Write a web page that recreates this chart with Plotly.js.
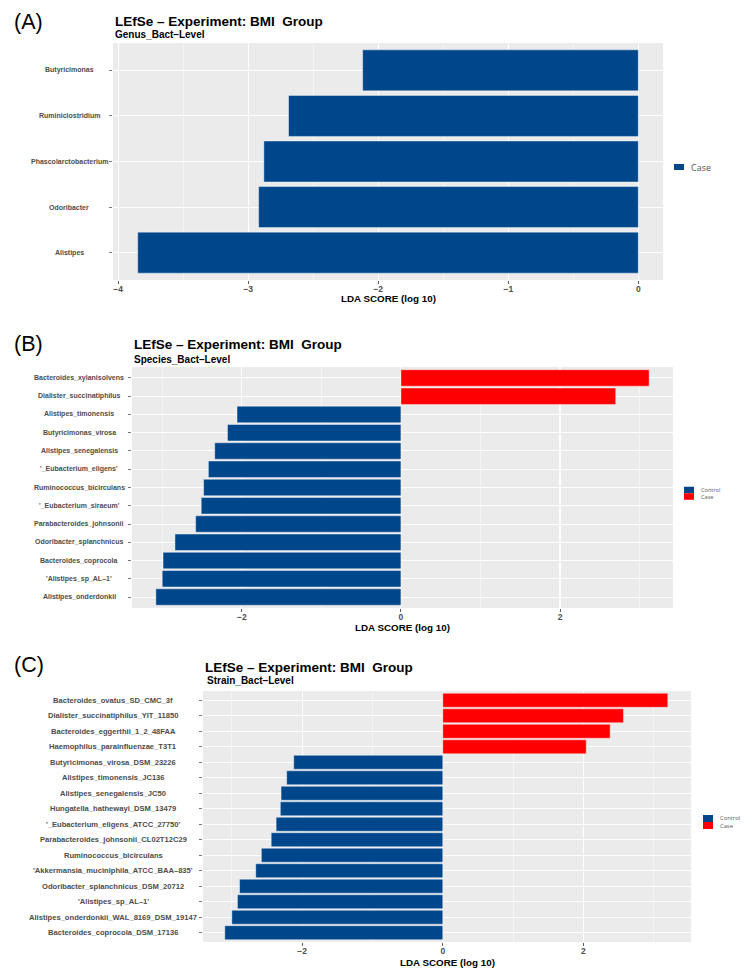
<!DOCTYPE html>
<html>
<head>
<meta charset="utf-8">
<script src="https://cdn.plot.ly/plotly-3.0.1.min.js"></script>
<style>
  html, body { margin: 0; padding: 0; background: #fff; }
  #chart { width: 753px; height: 974px; }
</style>
</head>
<body>
<div id="chart"></div>
<script>
// (A) genus level, top to bottom
var genusLabels = ['Butyricimonas', 'Ruminiclostridium', 'Phascolarctobacterium', 'Odoribacter', 'Alistipes'];
var genusLDA = [-2.12, -2.69, -2.88, -2.92, -3.85];
var genusGroup = ['Case', 'Case', 'Case', 'Case', 'Case'];

// (B) species level, top to bottom
var speciesLabels = [
  'Bacteroides_xylanisolvens', 'Dialister_succinatiphilus', 'Alistipes_timonensis',
  'Butyricimonas_virosa', 'Alistipes_senegalensis', "'_Eubacterium_eligens'",
  'Ruminococcus_bicirculans', "'_Eubacterium_siraeum'", 'Parabacteroides_johnsonii',
  'Odoribacter_splanchnicus', 'Bacteroides_coprocola', "'Alistipes_sp_AL–1'",
  'Alistipes_onderdonkii'
];
var speciesLDA = [3.12, 2.70, -2.06, -2.18, -2.34, -2.42, -2.48, -2.51, -2.58, -2.84, -2.99, -3.00, -3.08];
var speciesGroup = ['Case', 'Case', 'Control', 'Control', 'Control', 'Control', 'Control',
  'Control', 'Control', 'Control', 'Control', 'Control', 'Control'];

// (C) strain level, top to bottom
var strainLabels = [
  'Bacteroides_ovatus_SD_CMC_3f', 'Dialister_succinatiphilus_YIT_11850',
  'Bacteroides_eggerthii_1_2_48FAA', 'Haemophilus_parainfluenzae_T3T1',
  'Butyricimonas_virosa_DSM_23226', 'Alistipes_timonensis_JC136',
  'Alistipes_senegalensis_JC50', 'Hungatella_hathewayi_DSM_13479',
  "'_Eubacterium_eligens_ATCC_27750'", 'Parabacteroides_johnsonii_CL02T12C29',
  'Ruminococcus_bicirculans', "'Akkermansia_muciniphila_ATCC_BAA–835'",
  'Odoribacter_splanchnicus_DSM_20712', "'Alistipes_sp_AL–1'",
  'Alistipes_onderdonkii_WAL_8169_DSM_19147', 'Bacteroides_coprocola_DSM_17136'
];
var strainLDA = [3.20, 2.57, 2.38, 2.04, -2.12, -2.22, -2.30, -2.31, -2.37, -2.44, -2.58, -2.66, -2.89, -2.92, -3.00, -3.10];
var strainGroup = ['Case', 'Case', 'Case', 'Case', 'Control', 'Control', 'Control', 'Control',
  'Control', 'Control', 'Control', 'Control', 'Control', 'Control', 'Control', 'Control'];

var panelTags = ['(A)', '(B)', '(C)'];
var levelNames = ['Genus_Bact–Level', 'Species_Bact–Level', 'Strain_Bact–Level'];
var mainTitle = 'LEfSe – Experiment: BMI\u00a0 Group';
var xTitle = 'LDA SCORE (log 10)';

var W = 753, H = 974;
var BLUE = '#00468B', RED = '#FF0000';

// pixel boxes of the three plot areas and their decorations
var boxes = [
  { l: 113, r: 663, t: 43, b: 280, xr: [-4.04, 0.19], dt: 1, labX: 69, titleY: 22, subY: 34, tagY: 22, xtY: 298,
    legX: 674, legY: [167], legH: 6, legSize: 9, legTxt: 689 },
  { l: 132, r: 673, t: 367, b: 608, xr: [-3.38, 3.42], dt: 2, labX: 79, titleY: 344, subY: 359, tagY: 344, xtY: 627,
    legX: 684, legY: [490, 496.5], legH: 6.5, legSize: 5.6, legTxt: 699 },
  { l: 203, r: 691, t: 691, b: 942, xr: [-3.41, 3.53], dt: 2, labX: 113, titleY: 667, subY: 680, tagY: 665, xtY: 962,
    legX: 703, legY: [818.5, 825.5], legH: 7, legSize: 5.8, legTxt: 718 }
];

var panels = [
  { labels: genusLabels, lda: genusLDA, group: genusGroup, groups: ['Case'], colors: { Case: BLUE }, fs: 7 },
  { labels: speciesLabels, lda: speciesLDA, group: speciesGroup, groups: ['Control', 'Case'],
    colors: { Control: BLUE, Case: RED }, fs: 7 },
  { labels: strainLabels, lda: strainLDA, group: strainGroup, groups: ['Control', 'Case'],
    colors: { Control: BLUE, Case: RED }, fs: 7.6 }
];

var data = [];
var annotations = [];
var shapes = [];
var layout = {
  width: W, height: H,
  margin: { l: 0, r: 0, t: 0, b: 0 },
  paper_bgcolor: '#fff',
  plot_bgcolor: '#EBEBEB',
  font: { family: 'Liberation Sans, Arial, sans-serif', color: '#4D4D4D' },
  showlegend: false,
  annotations: annotations,
  shapes: shapes
};

panels.forEach(function (p, i) {
  var b = boxes[i];
  var sfx = i === 0 ? '' : String(i + 1);

  p.groups.forEach(function (g, gi) {
    var xs = [], ys = [];
    p.labels.forEach(function (lab, k) {
      if (p.group[k] === g) { xs.push(p.lda[k]); ys.push(lab); }
    });
    data.push({
      type: 'bar', orientation: 'h',
      x: xs, y: ys, name: g,
      xaxis: 'x' + sfx, yaxis: 'y' + sfx,
      width: 0.9,
      marker: { color: p.colors[g], line: { color: 'rgba(255,255,255,0.6)', width: 0.7 } },
      hoverinfo: 'x+y'
    });

    // legend key, ggplot style (small flat swatch)
    var cy = b.legY[gi];
    shapes.push({
      type: 'rect', xref: 'paper', yref: 'paper',
      x0: b.legX / W, x1: (b.legX + 10) / W,
      y0: 1 - (cy + b.legH / 2) / H, y1: 1 - (cy - b.legH / 2) / H,
      fillcolor: p.colors[g], line: { width: 0 }
    });
  });

  // legend text: one block, lines stacked tight like the swatches
  var ly = b.legY.reduce(function (s, v) { return s + v; }, 0) / b.legY.length;
  annotations.push({
    xref: 'paper', yref: 'paper', x: b.legTxt / W, y: 1 - ly / H,
    text: p.groups.join('<br>'), showarrow: false, xanchor: 'left', yanchor: 'middle', align: 'left',
    font: { family: 'Open Sans, sans-serif', size: b.legSize, color: '#555' }
  });

  var n = p.labels.length;
  layout['xaxis' + sfx] = {
    domain: [b.l / W, b.r / W],
    anchor: 'y' + sfx,
    range: b.xr,
    dtick: b.dt,
    tick0: 0,
    showgrid: true, gridcolor: '#FFFFFF', gridwidth: 1.1,
    minor: { dtick: b.dt / 2, showgrid: true, gridcolor: '#FFFFFF', gridwidth: 0.5 },
    zeroline: false, showline: false,
    ticks: 'outside', ticklen: 3, tickcolor: '#333', tickwidth: 0.8,
    ticklabelstandoff: -2,
    tickfont: { size: 8.5, color: '#4D4D4D', weight: 'bold' }
  };
  layout['yaxis' + sfx] = {
    domain: [1 - b.b / H, 1 - b.t / H],
    anchor: 'x' + sfx,
    type: 'category',
    categoryorder: 'array',
    categoryarray: p.labels.slice().reverse(),
    range: [-0.6, n - 0.4],
    showgrid: true, gridcolor: '#FFFFFF', gridwidth: 1,
    zeroline: false, showline: false,
    showticklabels: false,
    ticks: 'outside', ticklen: 3, tickcolor: '#555', tickwidth: 0.8
  };

  // category labels, centred like the original
  p.labels.forEach(function (lab) {
    annotations.push({
      xref: 'paper', yref: 'y' + sfx, x: b.labX / W, y: lab,
      text: '<b>' + lab + '</b>', showarrow: false, xanchor: 'center', yanchor: 'middle',
      font: { size: p.fs, color: '#4D4D4D' }
    });
  });

  annotations.push({
    xref: 'paper', yref: 'paper', x: ((b.l + b.r) / 2) / W, y: 1 - b.xtY / H,
    text: '<b>' + xTitle + '</b>', showarrow: false, xanchor: 'center', yanchor: 'middle',
    font: { size: 9.8, color: '#000' }
  });
  annotations.push({
    xref: 'paper', yref: 'paper', x: b.l / W, y: 1 - b.titleY / H,
    text: '<b>' + mainTitle + '</b>', showarrow: false, xanchor: 'left', yanchor: 'middle',
    font: { size: 13.5, color: '#000' }
  });
  annotations.push({
    xref: 'paper', yref: 'paper', x: (b.l + (i === 2 ? 2 : 0)) / W, y: 1 - b.subY / H,
    text: '<b>' + levelNames[i] + '</b>', showarrow: false, xanchor: 'left', yanchor: 'middle',
    font: { size: 10, color: '#000' }
  });
  annotations.push({
    xref: 'paper', yref: 'paper', x: 12 / W, y: 1 - b.tagY / H,
    text: panelTags[i], showarrow: false, xanchor: 'left', yanchor: 'middle',
    font: { size: 21.5, color: '#000' }
  });
});

Plotly.newPlot('chart', data, layout, { displayModeBar: false, staticPlot: true });
</script>
</body>
</html>
